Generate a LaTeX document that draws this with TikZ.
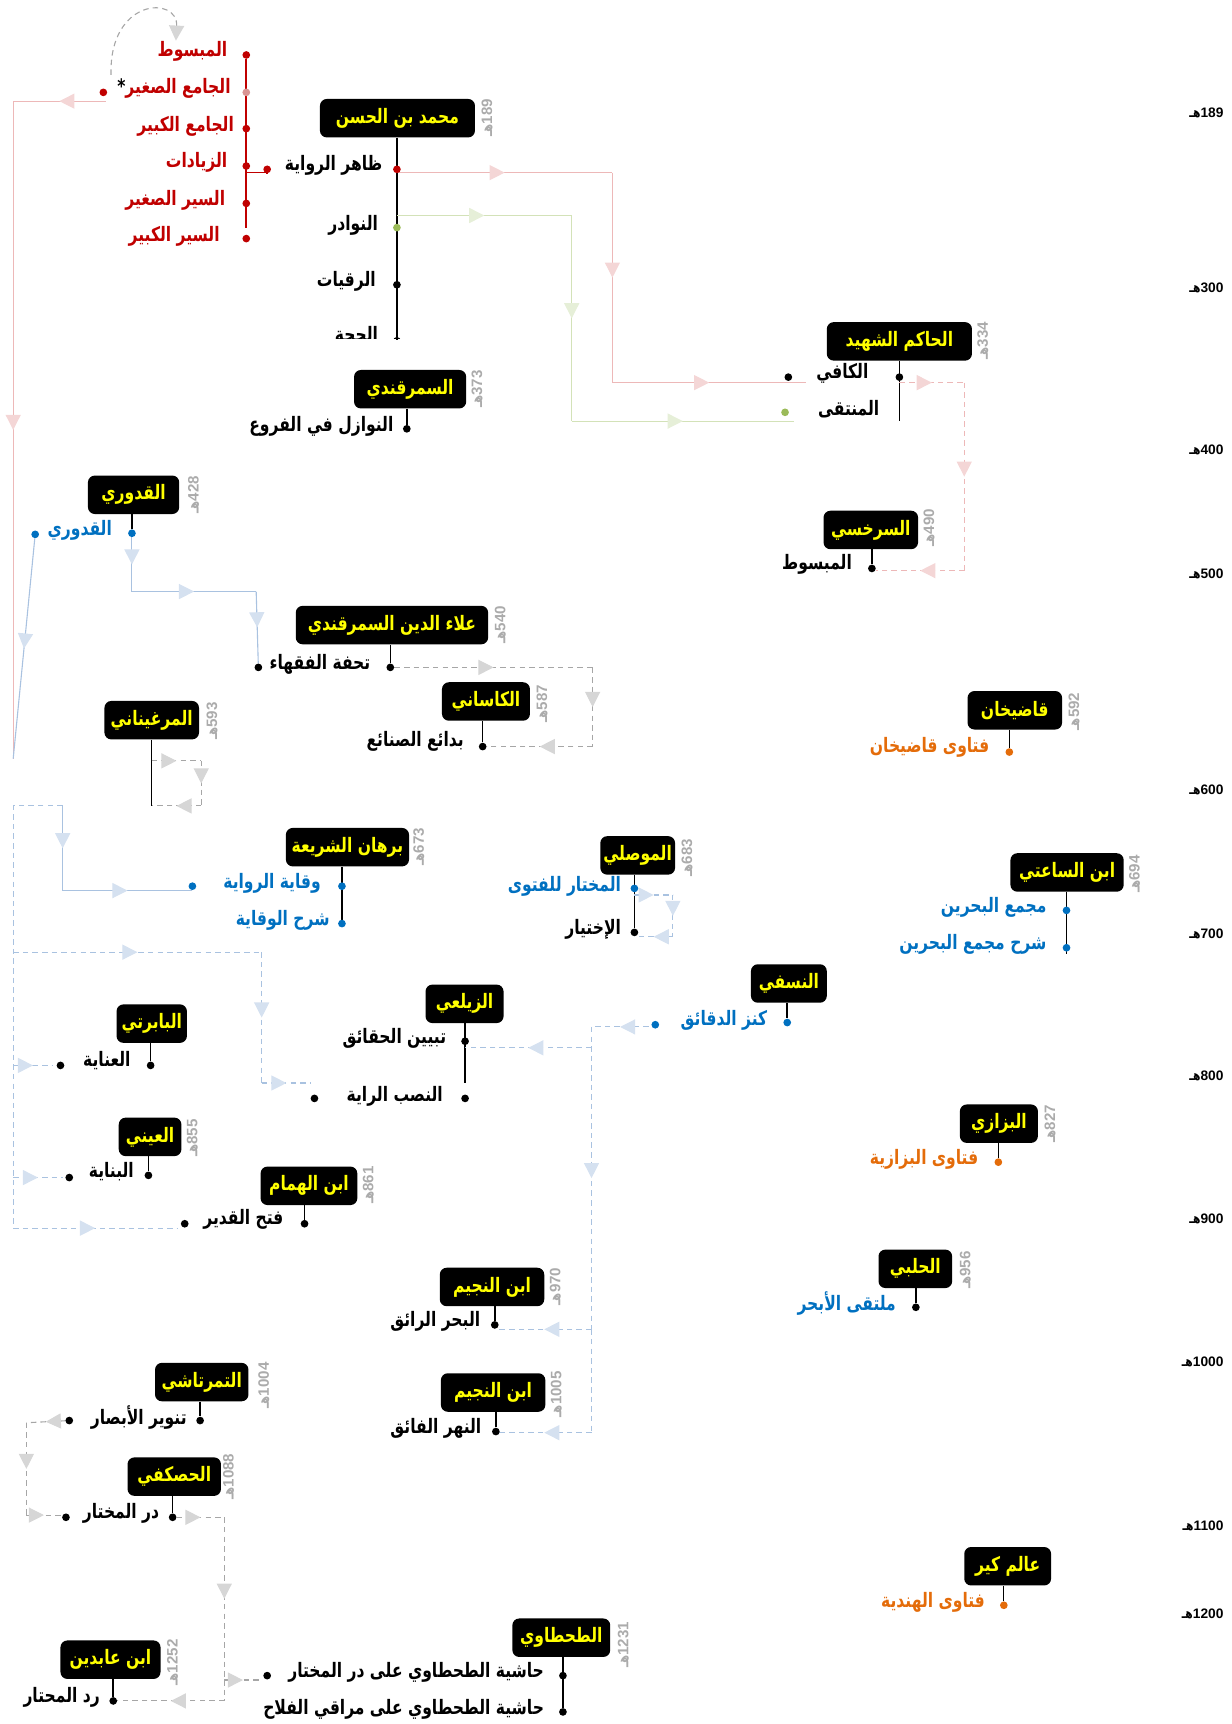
\documentclass[tikz,border=0pt]{standalone}
\usepackage{fontspec}
\setmainfont{Liberation Sans}
\newfontfamily\arabicfont[Script=Arabic,FakeStretch=0.78]{DejaVu Sans}
\TeXXeTstate=1
\usetikzlibrary{arrows.meta,positioning,decorations.markings,backgrounds}

\definecolor{redtxt}{HTML}{C00000}
\definecolor{pinkdot}{HTML}{D99594}
\definecolor{redln}{HTML}{EDB8B8}
\definecolor{redtip}{HTML}{F4D6D6}
\definecolor{grnln}{HTML}{D3E2B8}
\definecolor{grntip}{HTML}{E6EFD8}
\definecolor{grndot}{HTML}{9BBB59}
\definecolor{bluetxt}{HTML}{0070C0}
\definecolor{blueln}{HTML}{A9C2E0}
\definecolor{bluetip}{HTML}{D5E1F0}
\definecolor{grayln}{HTML}{A6A6A6}
\definecolor{graytip}{HTML}{D6D6D6}
\definecolor{orng}{HTML}{E46C0A}
\definecolor{datec}{HTML}{ABABAB}
\definecolor{boxyel}{HTML}{FFFF00}

\tikzset{
  author/.style={fill=black, rounded corners=5pt, text=boxyel,
    font=\arabicfont\bfseries\fontsize{14.5}{16}\selectfont,
    minimum width=#1*0.8pt, minimum height=28pt, inner sep=0pt},
  hdate/.style={rotate=90, text=datec, inner sep=0pt,
    font=\bfseries\fontsize{11}{13}\selectfont},
  era/.style={anchor=east, inner sep=0pt, font=\bfseries\fontsize{10}{12}\selectfont},
  lbl/.style={text=#1, anchor=east, inner sep=0pt,
    font=\arabicfont\bfseries\fontsize{14.5}{16}\selectfont},
  lbl/.default=black,
  bead/.style={circle, fill=#1, inner sep=0pt, minimum size=5.6pt},
  bead/.default=black,
  stem/.style={draw=black, line width=1.1pt},
  redtrunk/.style={draw=redtxt, line width=1.2pt},
  midarr/.style={postaction={decorate,decoration={markings,
    mark=at position .5 with {\arrow[color=#1]{Triangle[length=11pt,width=11pt]}}}}},
  redlink/.style={draw=redln, line width=0.8pt, midarr=redtip},
  reddash/.style={draw=redln, line width=0.8pt, dash pattern=on 4pt off 3pt, midarr=redtip},
  grnlink/.style={draw=grnln, line width=0.8pt, midarr=grntip},
  bluelink/.style={draw=blueln, line width=0.8pt, midarr=bluetip},
  bluedash/.style={draw=blueln, line width=0.8pt, dash pattern=on 4pt off 3pt, midarr=bluetip},
  bluetrunk/.style={draw=blueln, line width=0.8pt, dash pattern=on 4pt off 3pt},
  graydash/.style={draw=grayln, line width=0.8pt, dash pattern=on 4pt off 3pt, midarr=graytip},
  graytrunk/.style={draw=grayln, line width=0.8pt, dash pattern=on 4pt off 3pt},
}

\begin{document}
\begin{tikzpicture}[x=0.8pt,y=-0.8pt]
\useasboundingbox (0,0) rectangle (1120,1568);

% time axis
\node[era] (e189) at (1113,103) {{\arabicfont هـ}189};
\node[era] (e300) at (1113,262) {{\arabicfont هـ}300};
\node[era] (e400) at (1113,409) {{\arabicfont هـ}400};
\node[era] (e500) at (1113,522) {{\arabicfont هـ}500};
\node[era] (e600) at (1113,718) {{\arabicfont هـ}600};
\node[era] (e700) at (1113,849) {{\arabicfont هـ}700};
\node[era] (e800) at (1113,979) {{\arabicfont هـ}800};
\node[era] (e900) at (1113,1109) {{\arabicfont هـ}900};
\node[era] (e1000) at (1113,1239) {{\arabicfont هـ}1000};
\node[era] (e1100) at (1113,1388) {{\arabicfont هـ}1100};
\node[era] (e1200) at (1113,1468) {{\arabicfont هـ}1200};

% Muhammad ibn al-Hasan
\node[author=141] (hasan) at (361.5,107.5) {\beginR محمد بن الحسن\endR};
\node[hdate] (dhasan) at (443,107) {{\arabicfont هـ}189};
\node[bead=redtxt] (zahir) at (361,154) {};
\node[bead=grndot] (nawadir) at (361,207) {};
\node[bead] (ruqayyat) at (361,259) {};
\node[lbl] (tzahir) at (348,150) {\beginR ظاهر الرواية\endR};
\node[lbl] (tnawadir) at (344,205) {\beginR النوادر\endR};
\node[lbl] (truqayyat) at (342,256) {\beginR الرقيات\endR};
\coordinate (hasanend) at (361,309);
\begin{scope}
  \clip (280,290) rectangle (380,308);
  \node[lbl] (thujja) at (344,305) {\beginR الحجة\endR};
  \node[bead] (hujja) at (361,310) {};
\end{scope}

% zahir al-riwaya books
\node[bead=redtxt] (mabsut) at (224,50) {};
\node[bead=pinkdot] (jsaghir) at (224,84) {};
\node[bead=redtxt] (jkabir) at (224,117) {};
\node[bead=redtxt] (ziyadat) at (224,151) {};
\node[bead=redtxt] (ssaghir) at (224,185) {};
\node[bead=redtxt] (skabir) at (224,217) {};
\coordinate (redend) at (224,207);
\node[lbl=redtxt] (tmabsut) at (207,47) {\beginR المبسوط\endR};
\node[lbl=redtxt] (tjsaghir) at (210,80) {{\color{black}*}\beginR الجامع الصغير\endR};
\node[lbl=redtxt] (tjkabir) at (213,115) {\beginR الجامع الكبير\endR};
\node[lbl=redtxt] (tziyadat) at (207,148) {\beginR الزيادات\endR};
\node[lbl=redtxt] (tssaghir) at (205,182) {\beginR السير الصغير\endR};
\node[lbl=redtxt] (tskabir) at (200,215) {\beginR السير الكبير\endR};
\node[bead=redtxt] (jsout) at (94,84) {};
\node[bead=redtxt] (zahirin) at (243,154) {};
\coordinate (elb) at (224,157);
\coordinate (loopa) at (101,68);
\coordinate (loopb) at (160,37);

% al-Hakim al-Shahid
\node[author=132] (hakim) at (818,310.5) {\beginR الحاكم الشهيد\endR};
\node[hdate] (dhakim) at (894,310) {{\arabicfont هـ}334};
\node[bead] (kafi) at (818,343) {};
\node[lbl] (tkafi) at (790,340) {\beginR الكافي\endR};
\node[lbl] (tmuntaqa) at (800,372) {\beginR المنتقى\endR};
\node[bead] (kafiin) at (717,343) {};
\node[bead=grndot] (muntaqain) at (714,375) {};
\coordinate (hakimend) at (818,383);

% al-Sarakhsi
\node[author=86] (sarakhsi) at (792,482) {\beginR السرخسي\endR};
\node[hdate] (dsarakhsi) at (845,480) {{\arabicfont هـ}490};
\node[bead] (mabsut2) at (793,517) {};
\node[lbl] (tmabsut2) at (775,513) {\beginR المبسوط\endR};

% al-Samarqandi
\node[author=102] (samarqandi) at (373,354) {\beginR السمرقندي\endR};
\node[hdate] (dsamarqandi) at (434,354) {{\arabicfont هـ}373};
\node[bead] (nawazil) at (370,390) {};
\node[lbl] (tnawazil) at (358,388) {\beginR النوازل في الفروع\endR};

% al-Quduri
\node[author=83] (quduri) at (121.5,450) {\beginR القدوري\endR};
\node[hdate] (dquduri) at (176,450) {{\arabicfont هـ}428};
\node[bead=bluetxt] (mukhtasar) at (120,485) {};
\node[lbl=bluetxt] (tmukhtasar) at (102,482) {\beginR القدوري\endR};
\node[bead=bluetxt] (mukhtasarout) at (32,486) {};

% Ala al-Din al-Samarqandi
\node[author=175] (alaa) at (356.5,568.5) {\beginR علاء الدين السمرقندي\endR};
\node[hdate] (dalaa) at (455,568) {{\arabicfont هـ}540};
\node[bead] (tuhfa) at (355,607) {};
\node[lbl] (ttuhfa) at (337,604) {\beginR تحفة الفقهاء\endR};
\node[bead] (tuhfain) at (235,607) {};

% al-Kasani
\node[author=80] (kasani) at (442,638) {\beginR الكاساني\endR};
\node[hdate] (dkasani) at (493,640) {{\arabicfont هـ}587};
\node[bead] (badai) at (439,679) {};
\node[lbl] (tbadai) at (422,674) {\beginR بدائع الصنائع\endR};

% al-Marghinani
\node[author=86] (marghinani) at (138,655) {\beginR المرغيناني\endR};
\node[hdate] (dmarghinani) at (193,656) {{\arabicfont هـ}593};
\coordinate (marghend) at (138,733);

% Qadikhan
\node[author=86] (qadikhan) at (923,646) {\beginR قاضيخان\endR};
\node[hdate] (dqadikhan) at (977,647) {{\arabicfont هـ}592};
\node[bead=orng] (fqadikhan) at (918,684) {};
\node[lbl=orng] (tfqadikhan) at (900,680) {\beginR فتاوى قاضيخان\endR};

% Burhan al-Sharia
\node[author=112] (burhan) at (316,770.5) {\beginR برهان الشريعة\endR};
\node[hdate] (dburhan) at (381,770) {{\arabicfont هـ}673};
\node[bead=bluetxt] (wiqaya) at (311,806) {};
\node[bead=bluetxt] (sharhwiqaya) at (311,840) {};
\node[lbl=bluetxt] (twiqaya) at (292,803) {\beginR وقاية الرواية\endR};
\node[lbl=bluetxt] (tsharhwiqaya) at (300,837) {\beginR شرح الوقاية\endR};
\node[bead=bluetxt] (wiqayain) at (175,806) {};
\coordinate (burhanend) at (311,843);

% al-Mawsili
\node[author=68] (mawsili) at (580,778) {\beginR الموصلي\endR};
\node[hdate] (dmawsili) at (625,780) {{\arabicfont هـ}683};
\node[bead=bluetxt] (mukhtar) at (577,808) {};
\node[bead] (ikhtiyar) at (577,848) {};
\node[lbl=bluetxt] (tmukhtar) at (565,806) {\beginR المختار للفتوى\endR};
\node[lbl] (tikhtiyar) at (565,845) {\beginR الإختيار\endR};

% Ibn al-Saati
\node[author=103] (saati) at (970.5,793.5) {\beginR ابن الساعتي\endR};
\node[hdate] (dsaati) at (1032,795) {{\arabicfont هـ}694};
\node[bead=bluetxt] (majma) at (970,828) {};
\node[bead=bluetxt] (sharhmajma) at (970,862) {};
\node[lbl=bluetxt] (tmajma) at (952,825) {\beginR مجمع البحرين\endR};
\node[lbl=bluetxt] (tsharhmajma) at (952,859) {\beginR شرح مجمع البحرين\endR};
\coordinate (saatiend) at (970,868);

% al-Nasafi
\node[author=69] (nasafi) at (717.5,894.5) {\beginR النسفي\endR};
\node[bead=bluetxt] (kanz) at (716,930) {};
\node[lbl=bluetxt] (tkanz) at (698,928) {\beginR كنز الدقائق\endR};
\node[bead=bluetxt] (kanzout) at (596,932) {};

% al-Zaylai
\node[author=71] (zaylai) at (422.5,913) {\beginR الزيلعي\endR};
\node[bead] (tabyin) at (423,947) {};
\node[bead] (nasb) at (423,999) {};
\node[lbl] (ttabyin) at (406,944) {\beginR تبيين الحقائق\endR};
\node[lbl] (tnasb) at (403,997) {\beginR النصب الراية\endR};
\node[bead] (nasbin) at (286,999) {};
\coordinate (zaylaiend) at (423,985);

% al-Babarti
\node[author=64] (babarti) at (138,931) {\beginR البابرتي\endR};
\node[bead] (inaya) at (137,969) {};
\node[lbl] (tinaya) at (119,965) {\beginR العناية\endR};
\node[bead] (inayain) at (55,969) {};

% al-Ayni
\node[author=57] (ayni) at (136.5,1034) {\beginR العيني\endR};
\node[hdate] (dayni) at (175,1035) {{\arabicfont هـ}855};
\node[bead] (binaya) at (135,1069) {};
\node[lbl] (tbinaya) at (122,1066) {\beginR البناية\endR};
\node[bead] (binayain) at (63,1071) {};

% Ibn al-Humam
\node[author=88] (humam) at (281,1078.5) {\beginR ابن الهمام\endR};
\node[hdate] (dhumam) at (335,1078) {{\arabicfont هـ}861};
\node[bead] (fath) at (277,1113) {};
\node[lbl] (tfath) at (258,1109) {\beginR فتح القدير\endR};
\node[bead] (fathin) at (168,1113) {};

% al-Bazzazi
\node[author=71] (bazzazi) at (908.5,1022) {\beginR البزازي\endR};
\node[hdate] (dbazzazi) at (955,1022) {{\arabicfont هـ}827};
\node[bead=orng] (fbazzaz) at (908,1057) {};
\node[lbl=orng] (tfbazzaz) at (890,1054) {\beginR فتاوى البزازية\endR};

% al-Halabi
\node[author=67] (halabi) at (832.5,1154) {\beginR الحلبي\endR};
\node[hdate] (dhalabi) at (878,1155) {{\arabicfont هـ}956};
\node[bead] (multaqa) at (833,1189) {};
\node[lbl=bluetxt] (tmultaqa) at (815,1186) {\beginR ملتقى الأبحر\endR};

% Ibn Nujaym
\node[author=95] (nujaym) at (447.5,1170.5) {\beginR ابن النجيم\endR};
\node[hdate] (dnujaym) at (505,1170) {{\arabicfont هـ}970};
\node[bead] (bahr) at (450,1205) {};
\node[lbl] (tbahr) at (437,1202) {\beginR البحر الرائق\endR};
\node[author=95] (nujaymb) at (448.5,1266.5) {\beginR ابن النجيم\endR};
\node[hdate] (dnujaymb) at (506,1268) {{\arabicfont هـ}1005};
\node[bead] (nahr) at (451,1302) {};
\node[lbl] (tnahr) at (438,1299) {\beginR النهر الفائق\endR};

% al-Timurtashi
\node[author=85] (timurtashi) at (183.5,1257) {\beginR التمرتاشي\endR};
\node[hdate] (dtimurtashi) at (240,1260) {{\arabicfont هـ}1004};
\node[bead] (tanwir) at (182,1292) {};
\node[lbl] (ttanwir) at (170,1289) {\beginR تنوير الأبصار\endR};
\node[bead] (tanwirout) at (63,1292) {};

% al-Haskafi
\node[author=85] (haskafi) at (158.5,1343) {\beginR الحصكفي\endR};
\node[hdate] (dhaskafi) at (208,1343) {{\arabicfont هـ}1088};
\node[bead] (durr) at (157,1380) {};
\node[lbl] (tdurr) at (145,1376) {\beginR در المختار\endR};
\node[bead] (durrin) at (60,1380) {};

% Alamgir
\node[author=79] (alamgir) at (916.5,1424.5) {\beginR عالم كير\endR};
\node[bead=orng] (hindiyya) at (913,1460) {};
\node[lbl=orng] (thindiyya) at (896,1457) {\beginR فتاوى الهندية\endR};

% al-Tahtawi
\node[author=89] (tahtawi) at (510.5,1489.5) {\beginR الطحطاوي\endR};
\node[hdate] (dtahtawi) at (567,1496) {{\arabicfont هـ}1231};
\node[bead] (hashdurr) at (512,1524) {};
\node[bead] (hashmaraqi) at (512,1557) {};
\node[lbl] (thashdurr) at (495,1521) {\beginR حاشية الطحطاوي على در المختار\endR};
\node[lbl] (thashmaraqi) at (495,1555) {\beginR حاشية الطحطاوي على مراقي الفلاح\endR};
\node[bead] (hashdurrin) at (243,1524) {};

% Ibn Abidin
\node[author=91] (abidin) at (100.5,1509.5) {\beginR ابن عابدين\endR};
\node[hdate] (dabidin) at (157,1512) {{\arabicfont هـ}1252};
\node[bead] (radd) at (103,1547) {};
\node[lbl] (tradd) at (91,1544) {\beginR رد المحتار\endR};

\begin{pgfonlayer}{background}
% stems
\draw[stem] (zahir |- hasan.south) -- (hasanend);
\draw[stem] (kafi |- hakim.south) -- (hakimend);
\draw[stem] (mabsut2 |- sarakhsi.south) -- (mabsut2);
\draw[stem] (nawazil |- samarqandi.south) -- (nawazil);
\draw[stem] (mukhtasar |- quduri.south) -- (mukhtasar);
\draw[stem] (tuhfa |- alaa.south) -- (tuhfa);
\draw[stem] (badai |- kasani.south) -- (badai);
\draw[stem] (marghend |- marghinani.south) -- (marghend);
\draw[stem] (fqadikhan |- qadikhan.south) -- (fqadikhan);
\draw[stem] (wiqaya |- burhan.south) -- (burhanend);
\draw[stem] (mukhtar |- mawsili.south) -- (ikhtiyar);
\draw[stem] (majma |- saati.south) -- (saatiend);
\draw[stem] (kanz |- nasafi.south) -- (kanz);
\draw[stem] (tabyin |- zaylai.south) -- (zaylaiend);
\draw[stem] (inaya |- babarti.south) -- (inaya);
\draw[stem] (binaya |- ayni.south) -- (binaya);
\draw[stem] (fath |- humam.south) -- (fath);
\draw[stem] (fbazzaz |- bazzazi.south) -- (fbazzaz);
\draw[stem] (multaqa |- halabi.south) -- (multaqa);
\draw[stem] (bahr |- nujaym.south) -- (bahr);
\draw[stem] (nahr |- nujaymb.south) -- (nahr);
\draw[stem] (tanwir |- timurtashi.south) -- (tanwir);
\draw[stem] (durr |- haskafi.south) -- (durr);
\draw[stem, line width=0.8pt] (hindiyya |- alamgir.south) -- (hindiyya);
\draw[stem] (hashdurr |- tahtawi.south) -- (hashmaraqi);
\draw[stem] (radd |- abidin.south) -- (radd);

% zahir al-riwaya
\draw[redtrunk] (mabsut) -- (redend);
\draw[redtrunk] (elb) -| (zahirin);
\draw[graytrunk, -{Triangle[length=11pt,width=11pt,color=graytip]}]
  (loopa) .. controls (99,-2) and (162,-4) .. (loopb);

% al-Jami al-Saghir to al-Quduri
\coordinate (js0) at (96,92);
\coordinate (js1) at (12,92);
\coordinate (js2) at (12,690);
\draw[redlink] (js0) -- (js1);
\draw[redlink] (js1) -- (js2);

% to al-Kafi
\coordinate (zk0) at (361,157);
\coordinate (zk1) at (557,157);
\coordinate (zk2) at (557,348);
\coordinate (zk3) at (733,348);
\draw[redlink] (zk0) -- (zk1);
\draw[redlink] (zk1) -- (zk2);
\draw[redlink] (zk2) -- (zk3);
\coordinate (gn0) at (361,196);
\coordinate (gn1) at (520,196);
\coordinate (gn2) at (520,383);
\coordinate (gn3) at (722,383);
\draw[grnlink] (gn0) -- (gn1);
\draw[grnlink] (gn1) -- (gn2);
\draw[grnlink] (gn2) -- (gn3);

% al-Kafi to al-Mabsut
\coordinate (km0) at (818,348);
\coordinate (km1) at (877,348);
\coordinate (km2) at (877,519);
\coordinate (km3) at (797,519);
\draw[reddash] (km0) -- (km1);
\draw[reddash] (km1) -- (km2);
\draw[reddash] (km2) -- (km3);

% al-Quduri
\coordinate (qd0) at (12,690);
\draw[bluelink] (mukhtasarout) -- (qd0);
\coordinate (qt1) at (120,538);
\coordinate (qt2) at (233,538);
\draw[bluelink] (mukhtasar) -- (qt1);
\draw[bluelink] (qt1) -- (qt2);
\draw[bluelink] (qt2) -- (tuhfain);

% Tuhfa to Badai
\coordinate (tb1) at (539,607);
\coordinate (tb2) at (539,679);
\draw[graydash] (tuhfa) -- (tb1);
\draw[graydash] (tb1) -- (tb2);
\draw[graydash] (tb2) -- (badai);

% al-Hidaya
\coordinate (hd0) at (138,692);
\coordinate (hd1) at (183,692);
\coordinate (hd2) at (183,733);
\draw[graydash] (hd0) -- (hd1);
\draw[graydash] (hd1) -- (hd2);
\draw[graydash] (hd2) -- (marghend);

% commentaries
\coordinate (cm0) at (57,733);
\coordinate (cm1) at (12,733);
\coordinate (cm2) at (12,1117);
\coordinate (cm3) at (57,810);
\coordinate (cm4) at (175,810);
\draw[bluetrunk] (cm0) -- (cm1) -- (cm2);
\draw[bluelink] (cm0) -- (cm3);
\draw[bluelink] (cm3) -- (cm4);
\coordinate (nb0) at (12,866);
\coordinate (nb1) at (238,866);
\coordinate (nb2) at (238,985);
\coordinate (nb3) at (283,985);
\draw[bluedash] (nb0) -- (nb1);
\draw[bluedash] (nb1) -- (nb2);
\draw[bluedash] (nb2) -- (nb3);
\coordinate (in0) at (12,969);
\coordinate (in1) at (48,969);
\draw[bluedash] (in0) -- (in1);
\coordinate (bn0) at (12,1071);
\coordinate (bn1) at (57,1071);
\draw[bluedash] (bn0) -- (bn1);
\coordinate (fq0) at (12,1117);
\coordinate (fq1) at (161,1117);
\draw[bluedash] (fq0) -- (fq1);

% al-Mukhtar
\coordinate (mk0) at (577,814);
\coordinate (mk1) at (612,814);
\coordinate (mk2) at (612,852);
\coordinate (mk3) at (577,852);
\draw[bluedash] (mk0) -- (mk1);
\draw[bluedash] (mk1) -- (mk2);
\draw[bluedash] (mk2) -- (mk3);

% Kanz al-Daqaiq
\coordinate (kz0) at (590,934);
\coordinate (kz1) at (538,934);
\coordinate (kz2) at (538,1209);
\coordinate (kz3) at (538,1303);
\coordinate (kz4) at (538,953);
\coordinate (kt1) at (423,953);
\coordinate (kb1) at (452,1209);
\coordinate (kn1) at (452,1303);
\draw[bluedash] (kz0) -- (kz1);
\draw[bluedash] (kz1) -- (kz2);
\draw[bluetrunk] (kz2) -- (kz3);
\draw[bluedash] (kz4) -- (kt1);
\draw[bluedash] (kz2) -- (kb1);
\draw[bluedash] (kz3) -- (kn1);

% Tanwir and al-Durr
\coordinate (tw1) at (24,1294);
\coordinate (tw2) at (24,1378);
\coordinate (tw3) at (56,1378);
\draw[graydash] (tanwirout) -- (tw1);
\draw[graydash] (tw1) -- (tw2);
\draw[graydash] (tw2) -- (tw3);
\coordinate (dr1) at (204,1380);
\coordinate (dr2) at (204,1528);
\coordinate (dr3) at (204,1547);
\coordinate (dr4) at (238,1528);
\draw[graydash] (durr) -- (dr1);
\draw[graydash] (dr1) -- (dr2);
\draw[graytrunk] (dr2) -- (dr3);
\draw[graydash] (dr2) -- (dr4);
\draw[graydash] (dr3) -- (radd);
\end{pgfonlayer}
\end{tikzpicture}
\end{document}
